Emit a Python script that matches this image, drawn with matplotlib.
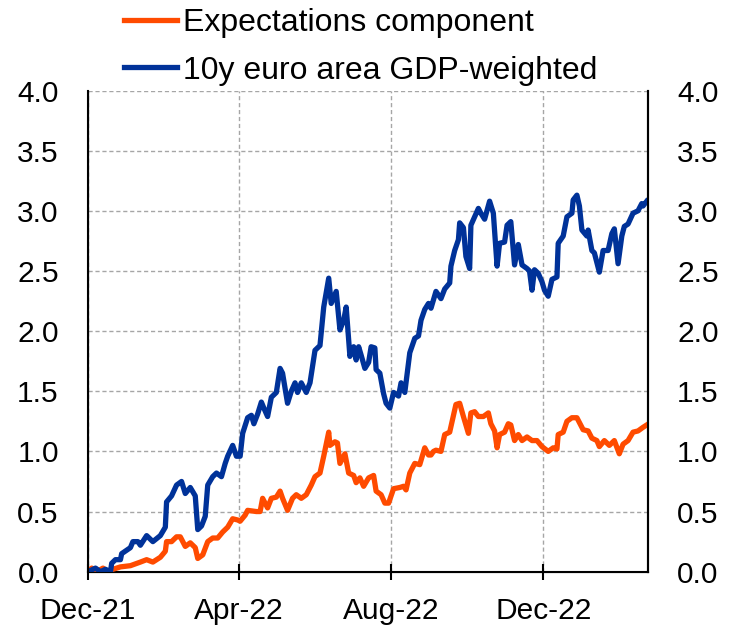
import datetime as dt
import numpy as np
import matplotlib
matplotlib.use("Agg")
import matplotlib.pyplot as plt
import matplotlib.dates as mdates

start = dt.date(2021, 12, 1)

# days since 1 Dec 2021 and values (%)
blue_days = [0, 6, 10, 14, 18, 19, 22, 26, 27, 34, 36, 40, 42, 47, 52, 58, 62, 63, 67, 71, 75, 78, 82, 86, 88,
             91, 94, 96, 100, 103, 107, 110, 112, 116, 119, 122, 124, 128, 131, 133, 136, 139, 141, 144, 147,
             151, 154, 156, 160, 163, 166, 168, 171, 175, 178, 182, 186, 189, 193, 195, 199, 202, 205, 207,
             210, 213, 215, 217, 219, 222, 225, 227, 230, 231, 234, 237, 239, 242, 245, 249, 251, 254, 258,
             262, 265, 267, 270, 273, 275, 279, 283, 286, 290, 291, 294, 297, 298, 301, 303, 306, 307, 310,
             313, 315, 318, 322, 325, 328, 330, 334, 336, 339, 342, 345, 348, 352, 354, 356, 358, 361, 364,
             366, 369, 372, 376, 377, 381, 384, 388, 389, 392, 394, 396, 400, 401, 404, 406, 410, 413, 417,
             420, 422, 425, 428, 430, 433, 437, 441, 444, 445, 448]
blue_vals = [0.0, 0.03, 0.0, 0.02, 0.0, 0.07, 0.10, 0.10, 0.15, 0.20, 0.25, 0.25, 0.22, 0.30, 0.25, 0.30, 0.37,
             0.58, 0.63, 0.72, 0.75, 0.65, 0.70, 0.63, 0.35, 0.38, 0.46, 0.72, 0.79, 0.82, 0.79, 0.90, 0.96,
             1.05, 0.96, 0.96, 1.15, 1.28, 1.30, 1.23, 1.31, 1.41, 1.36, 1.29, 1.45, 1.49, 1.69, 1.65, 1.40,
             1.50, 1.57, 1.49, 1.57, 1.49, 1.57, 1.84, 1.88, 2.20, 2.44, 2.23, 2.33, 2.01, 2.09, 2.20, 1.79,
             1.87, 1.76, 1.87, 1.80, 1.69, 1.74, 1.87, 1.86, 1.68, 1.65, 1.48, 1.40, 1.36, 1.49, 1.46, 1.57,
             1.49, 1.82, 1.94, 1.96, 2.09, 2.18, 2.23, 2.19, 2.33, 2.27, 2.35, 2.40, 2.54, 2.67, 2.76, 2.90,
             2.86, 2.62, 2.52, 2.88, 2.95, 3.02, 2.98, 2.93, 3.08, 2.98, 2.54, 2.73, 2.74, 2.88, 2.91, 2.55,
             2.72, 2.55, 2.52, 2.50, 2.34, 2.51, 2.48, 2.41, 2.34, 2.29, 2.43, 2.45, 2.73, 2.79, 2.95, 2.98,
             3.09, 3.13, 3.04, 2.84, 2.79, 2.84, 2.67, 2.65, 2.49, 2.67, 2.67, 2.81, 2.85, 2.56, 2.79, 2.87,
             2.89, 2.98, 3.00, 3.06, 3.04, 3.08]

orange_days = [0, 3, 7, 12, 16, 20, 26, 34, 42, 47, 52, 58, 62, 63, 67, 71, 74, 78, 82, 86, 88, 92, 96, 100,
               104, 108, 112, 116, 120, 122, 126, 128, 135, 138, 140, 144, 147, 151, 154, 156, 160, 164, 167,
               171, 175, 179, 182, 186, 189, 193, 194, 198, 200, 202, 206, 209, 213, 215, 218, 221, 225, 229,
               231, 235, 238, 241, 245, 250, 253, 255, 258, 262, 266, 270, 273, 275, 277, 279, 283, 286, 290,
               293, 295, 298, 301, 305, 307, 310, 313, 317, 321, 323, 326, 328, 330, 334, 337, 339, 342, 345,
               348, 352, 356, 360, 364, 369, 373, 376, 377, 381, 384, 388, 392, 394, 397, 401, 404, 408, 410,
               414, 418, 422, 426, 429, 433, 437, 441, 445, 448]
orange_vals = [0.0, 0.03, 0.0, 0.03, 0.0, 0.02, 0.04, 0.05, 0.08, 0.10, 0.08, 0.12, 0.17, 0.25, 0.25, 0.29,
               0.29, 0.21, 0.24, 0.20, 0.11, 0.14, 0.25, 0.28, 0.28, 0.33, 0.37, 0.44, 0.43, 0.42, 0.47, 0.51,
               0.50, 0.50, 0.61, 0.53, 0.61, 0.62, 0.67, 0.61, 0.51, 0.61, 0.64, 0.61, 0.64, 0.72, 0.79, 0.82,
               0.96, 1.16, 1.05, 1.08, 1.07, 0.90, 0.98, 0.82, 0.80, 0.74, 0.78, 0.71, 0.78, 0.80, 0.67, 0.64,
               0.57, 0.57, 0.69, 0.70, 0.71, 0.68, 0.82, 0.90, 0.89, 1.03, 0.97, 0.97, 1.00, 1.01, 1.00, 1.14,
               1.16, 1.30, 1.39, 1.40, 1.29, 1.15, 1.32, 1.33, 1.29, 1.29, 1.32, 1.23, 1.17, 1.03, 1.14, 1.16,
               1.23, 1.22, 1.09, 1.14, 1.09, 1.12, 1.09, 1.09, 1.04, 1.00, 1.03, 1.02, 1.14, 1.16, 1.25, 1.28,
               1.28, 1.24, 1.18, 1.17, 1.11, 1.09, 1.04, 1.09, 1.05, 1.09, 0.98, 1.06, 1.09, 1.16, 1.17, 1.20,
               1.22]

y_ticks = [0.0, 0.5, 1.0, 1.5, 2.0, 2.5, 3.0, 3.5, 4.0]
series_labels = ["Expectations component", "10y euro area GDP-weighted"]

blue_dates = [start + dt.timedelta(days=d) for d in blue_days]
orange_dates = [start + dt.timedelta(days=d) for d in orange_days]

plt.rcParams['font.family'] = ['Liberation Sans', 'DejaVu Sans']
FS = 21.5
LFS = 23
ORANGE = "#FF4B00"
BLUE = "#003299"

fig = plt.figure(figsize=(7.30, 6.27), dpi=100)
ax = fig.add_axes([88 / 730, 1 - 571.7 / 627, (648 - 88) / 730, (571.7 - 90.5) / 627])

l1, = ax.plot(orange_dates, orange_vals, color=ORANGE, lw=3.8, solid_joinstyle='round', zorder=3)
l2, = ax.plot(blue_dates, blue_vals, color=BLUE, lw=3.8, solid_joinstyle='round', zorder=4)

ax.set_ylim(0, 4)
ax.set_xlim(start, start + dt.timedelta(days=449))
ax.set_yticks(y_ticks)
ax.set_yticklabels([f"{v:.1f}" for v in y_ticks])
ax.xaxis.set_major_locator(mdates.MonthLocator(bymonth=[12, 4, 8]))
ax.xaxis.set_major_formatter(mdates.DateFormatter('%b-%y'))

ax.grid(True, color="#A6A6A6", linestyle=(0, (3, 2)), linewidth=1.0)
ax.set_axisbelow(True)
ax.spines['top'].set_visible(False)
for s in ['left', 'bottom', 'right']:
    ax.spines[s].set_linewidth(1.5)
    ax.spines[s].set_color('black')

ax.tick_params(axis='y', length=0, pad=21, labelsize=FS)
ax.tick_params(axis='x', direction='inout', length=12, width=1.5, pad=12, labelsize=FS)

ax2 = ax.twinx()
ax2.set_ylim(0, 4)
ax2.set_yticks(y_ticks)
ax2.set_yticklabels([f"{v:.1f}" for v in y_ticks])
ax2.tick_params(axis='y', length=0, pad=21, labelsize=FS)
ax2.spines['top'].set_visible(False)
ax2.spines['right'].set_linewidth(1.5)

leg = fig.legend([l1, l2], series_labels, loc='upper left', bbox_to_anchor=(124 / 730, 1 - 8 / 627),
                 frameon=False, fontsize=LFS, handlelength=1.66, handletextpad=0.2,
                 labelspacing=0.55, borderaxespad=0, borderpad=0.0)

fig.savefig("out.png", dpi=100)
